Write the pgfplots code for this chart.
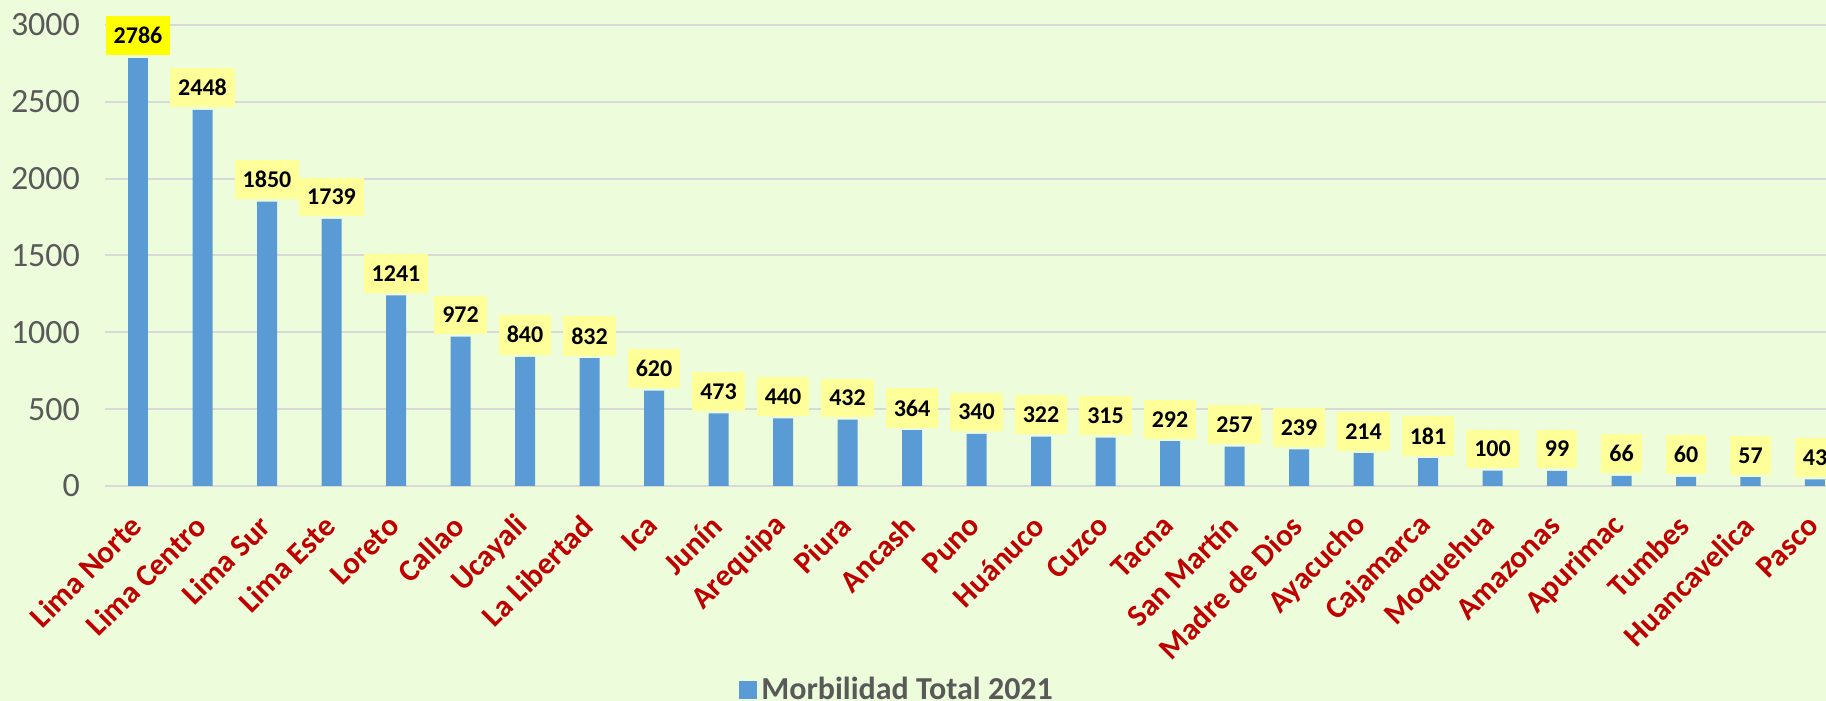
\documentclass[border=0pt]{standalone}
\usepackage{fontspec}
\setmainfont{Carlito}
\usepackage{pgfplots}
\pgfplotsset{compat=1.18}
\definecolor{bgc}{HTML}{EDFDDB}
\definecolor{barblue}{HTML}{5B9BD5}
\definecolor{pale}{HTML}{FFFF99}
\definecolor{brightyel}{HTML}{FFFF00}
\definecolor{gridc}{HTML}{D9D9D9}
\definecolor{tickc}{HTML}{595959}
\definecolor{redlab}{HTML}{C00000}
\begin{document}
\begin{tikzpicture}
\fill[bgc] (-52.5pt,-107.5pt) rectangle (860.5pt,243pt);
\begin{axis}[
  at={(0,0)}, anchor=south west,
  scale only axis, width=871.5pt, height=230.5pt,
  xmin=-0.512, xmax=26.512, ymin=0, ymax=3000,
  ybar, bar width=10pt, bar shift=0pt,
  clip=false,
  axis line style={draw=none},
  major tick length=0pt,
  ytick={0,500,...,3000},
  ymajorgrids, grid style={color=gridc, line width=1pt},
  /pgf/number format/assume math mode=true,
  /pgf/number format/1000 sep={},
  yticklabel style={font=\fontsize{17}{19}\selectfont, color=tickc, xshift=-9pt},
  xtick={0,...,26},
  xticklabels={Lima Norte,Lima Centro,Lima Sur,Lima Este,Loreto,Callao,Ucayali,La Libertad,Ica,Junín,Arequipa,Piura,Ancash,Puno,Huánuco,Cuzco,Tacna,San Martín,Madre de Dios,Ayacucho,Cajamarca,Moquehua,Amazonas,Apurimac,Tumbes,Huancavelica,Pasco},
  xticklabel style={font=\fontsize{15.5}{17}\selectfont\bfseries, color=redlab, xshift=1.5pt, yshift=-15pt, rotate=45, anchor=east},
  nodes near coords,
  every node near coord/.append style={font=\fontsize{12}{14}\selectfont\bfseries, color=black, fill=pale, inner xsep=4pt, inner ysep=5.7pt, anchor=south, yshift=1pt},
  legend style={at={(0.455,-0.4425)}, anchor=center, draw=none, fill=none, font=\fontsize{16}{18}\selectfont\bfseries, text=tickc},
  legend image code/.code={\fill[barblue] (0pt,-4.5pt) rectangle (9pt,4.5pt);},
]
\addplot[fill=barblue, draw=none] coordinates {
(1,2448) (2,1850) (3,1739) (4,1241) (5,972) (6,840) (7,832) (8,620) (9,473) (10,440) (11,432) (12,364) (13,340) (14,322) (15,315) (16,292) (17,257) (18,239) (19,214) (20,181) (21,100) (22,99) (23,66) (24,60) (25,57) (26,43)};
\addlegendentry{Morbilidad Total 2021}
\addplot[fill=barblue, draw=none, forget plot, every node near coord/.append style={fill=brightyel}] coordinates {(0,2786)};
\end{axis}
\pgfresetboundingbox
\path[use as bounding box] (-52.5pt,-107.5pt) rectangle (860.5pt,243pt);
\end{tikzpicture}
\end{document}
